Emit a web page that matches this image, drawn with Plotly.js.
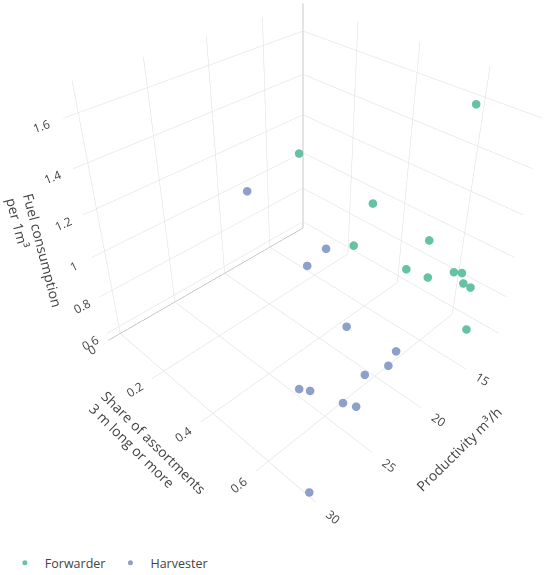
<!DOCTYPE html>
<html>
<head>
<meta charset="utf-8">
<script src="https://cdn.plot.ly/plotly-3.0.1.min.js"></script>
<style>
  html, body { margin: 0; padding: 0; overflow: hidden; background: #fff; }
  #chart { position: absolute; left: 0; top: -84px; width: 606px; height: 680px; }
</style>
</head>
<body>
<div id="chart"></div>
<script>
// Forwarder: productivity (m3/h), share of 3 m+ assortments, fuel per 1 m3
const forwarderProd  = [14.15, 17.07, 16.77, 17.00, 15.12, 15.44, 15.12, 14.50, 14.20, 13.94, 14.05, 13.30];
const forwarderShare = [0.649, 0.213, 0.460, 0.412, 0.595, 0.544, 0.604, 0.663, 0.679, 0.682, 0.706, 0.699];
const forwarderFuel  = [1.662, 1.270, 1.198, 0.966, 1.082, 0.908, 0.908, 0.966, 0.966, 0.908, 0.913, 0.658];

// Harvester
const harvesterProd  = [19.56, 15.45, 17.44, 19.55, 19.83, 20.39, 22.10, 26.57, 26.20, 24.90, 24.50, 30.20];
const harvesterShare = [0.106, 0.260, 0.258, 0.482, 0.654, 0.650, 0.629, 0.571, 0.593, 0.653, 0.681, 0.739];
const harvesterFuel  = [1.080, 0.778, 0.744, 0.691, 0.749, 0.691, 0.691, 0.744, 0.744, 0.694, 0.691, 0.606];

const greenColor = '#66c2a5';
const blueColor = '#8da0cb';

const forwarder = {
    type: 'scatter3d',
    mode: 'markers',
    name: 'Forwarder',
    x: forwarderProd,
    y: forwarderShare,
    z: forwarderFuel,
    marker: { size: 5, color: greenColor }
};

const harvester = {
    type: 'scatter3d',
    mode: 'markers',
    name: 'Harvester',
    x: harvesterProd,
    y: harvesterShare,
    z: harvesterFuel,
    marker: { size: 5, color: blueColor }
};

function axis(range, titleText) {
    return {
        range: range,
        gridcolor: 'rgb(220,220,220)',
        zerolinecolor: 'rgb(150,150,150)',
        showbackground: false,
        showspikes: false,
        tickfont: { size: 12, color: '#444' },
        title: { text: titleText, font: { size: 14, color: '#444' } }
    };
}

const layout = {
    width: 606,
    height: 680,
    margin: { l: 0, r: 0, t: 0, b: 0 },
    paper_bgcolor: '#ffffff',
    font: { family: 'Open Sans, sans-serif', color: '#444' },
    showlegend: true,
    legend: {
        orientation: 'h',
        x: 0.008, xanchor: 'left',
        y: 0.0485, yanchor: 'middle',
        font: { size: 12.5, color: '#444' }
    },
    scene: {
        domain: { x: [0, 1], y: [0.0824, 1] },
        camera: { eye: { x: 1.415, y: 1.415, z: 1.415 } },
        aspectmode: 'cube',
        xaxis: axis([11, 31], 'Productivity m³/h'),
        yaxis: axis([0, 0.75], 'Share of assortments<br>3 m long or more'),
        zaxis: axis([0.56, 1.72], 'Fuel consumption<br>per 1m³')
    }
};

Plotly.newPlot('chart', [forwarder, harvester], layout, { displayModeBar: false });
</script>
</body>
</html>
